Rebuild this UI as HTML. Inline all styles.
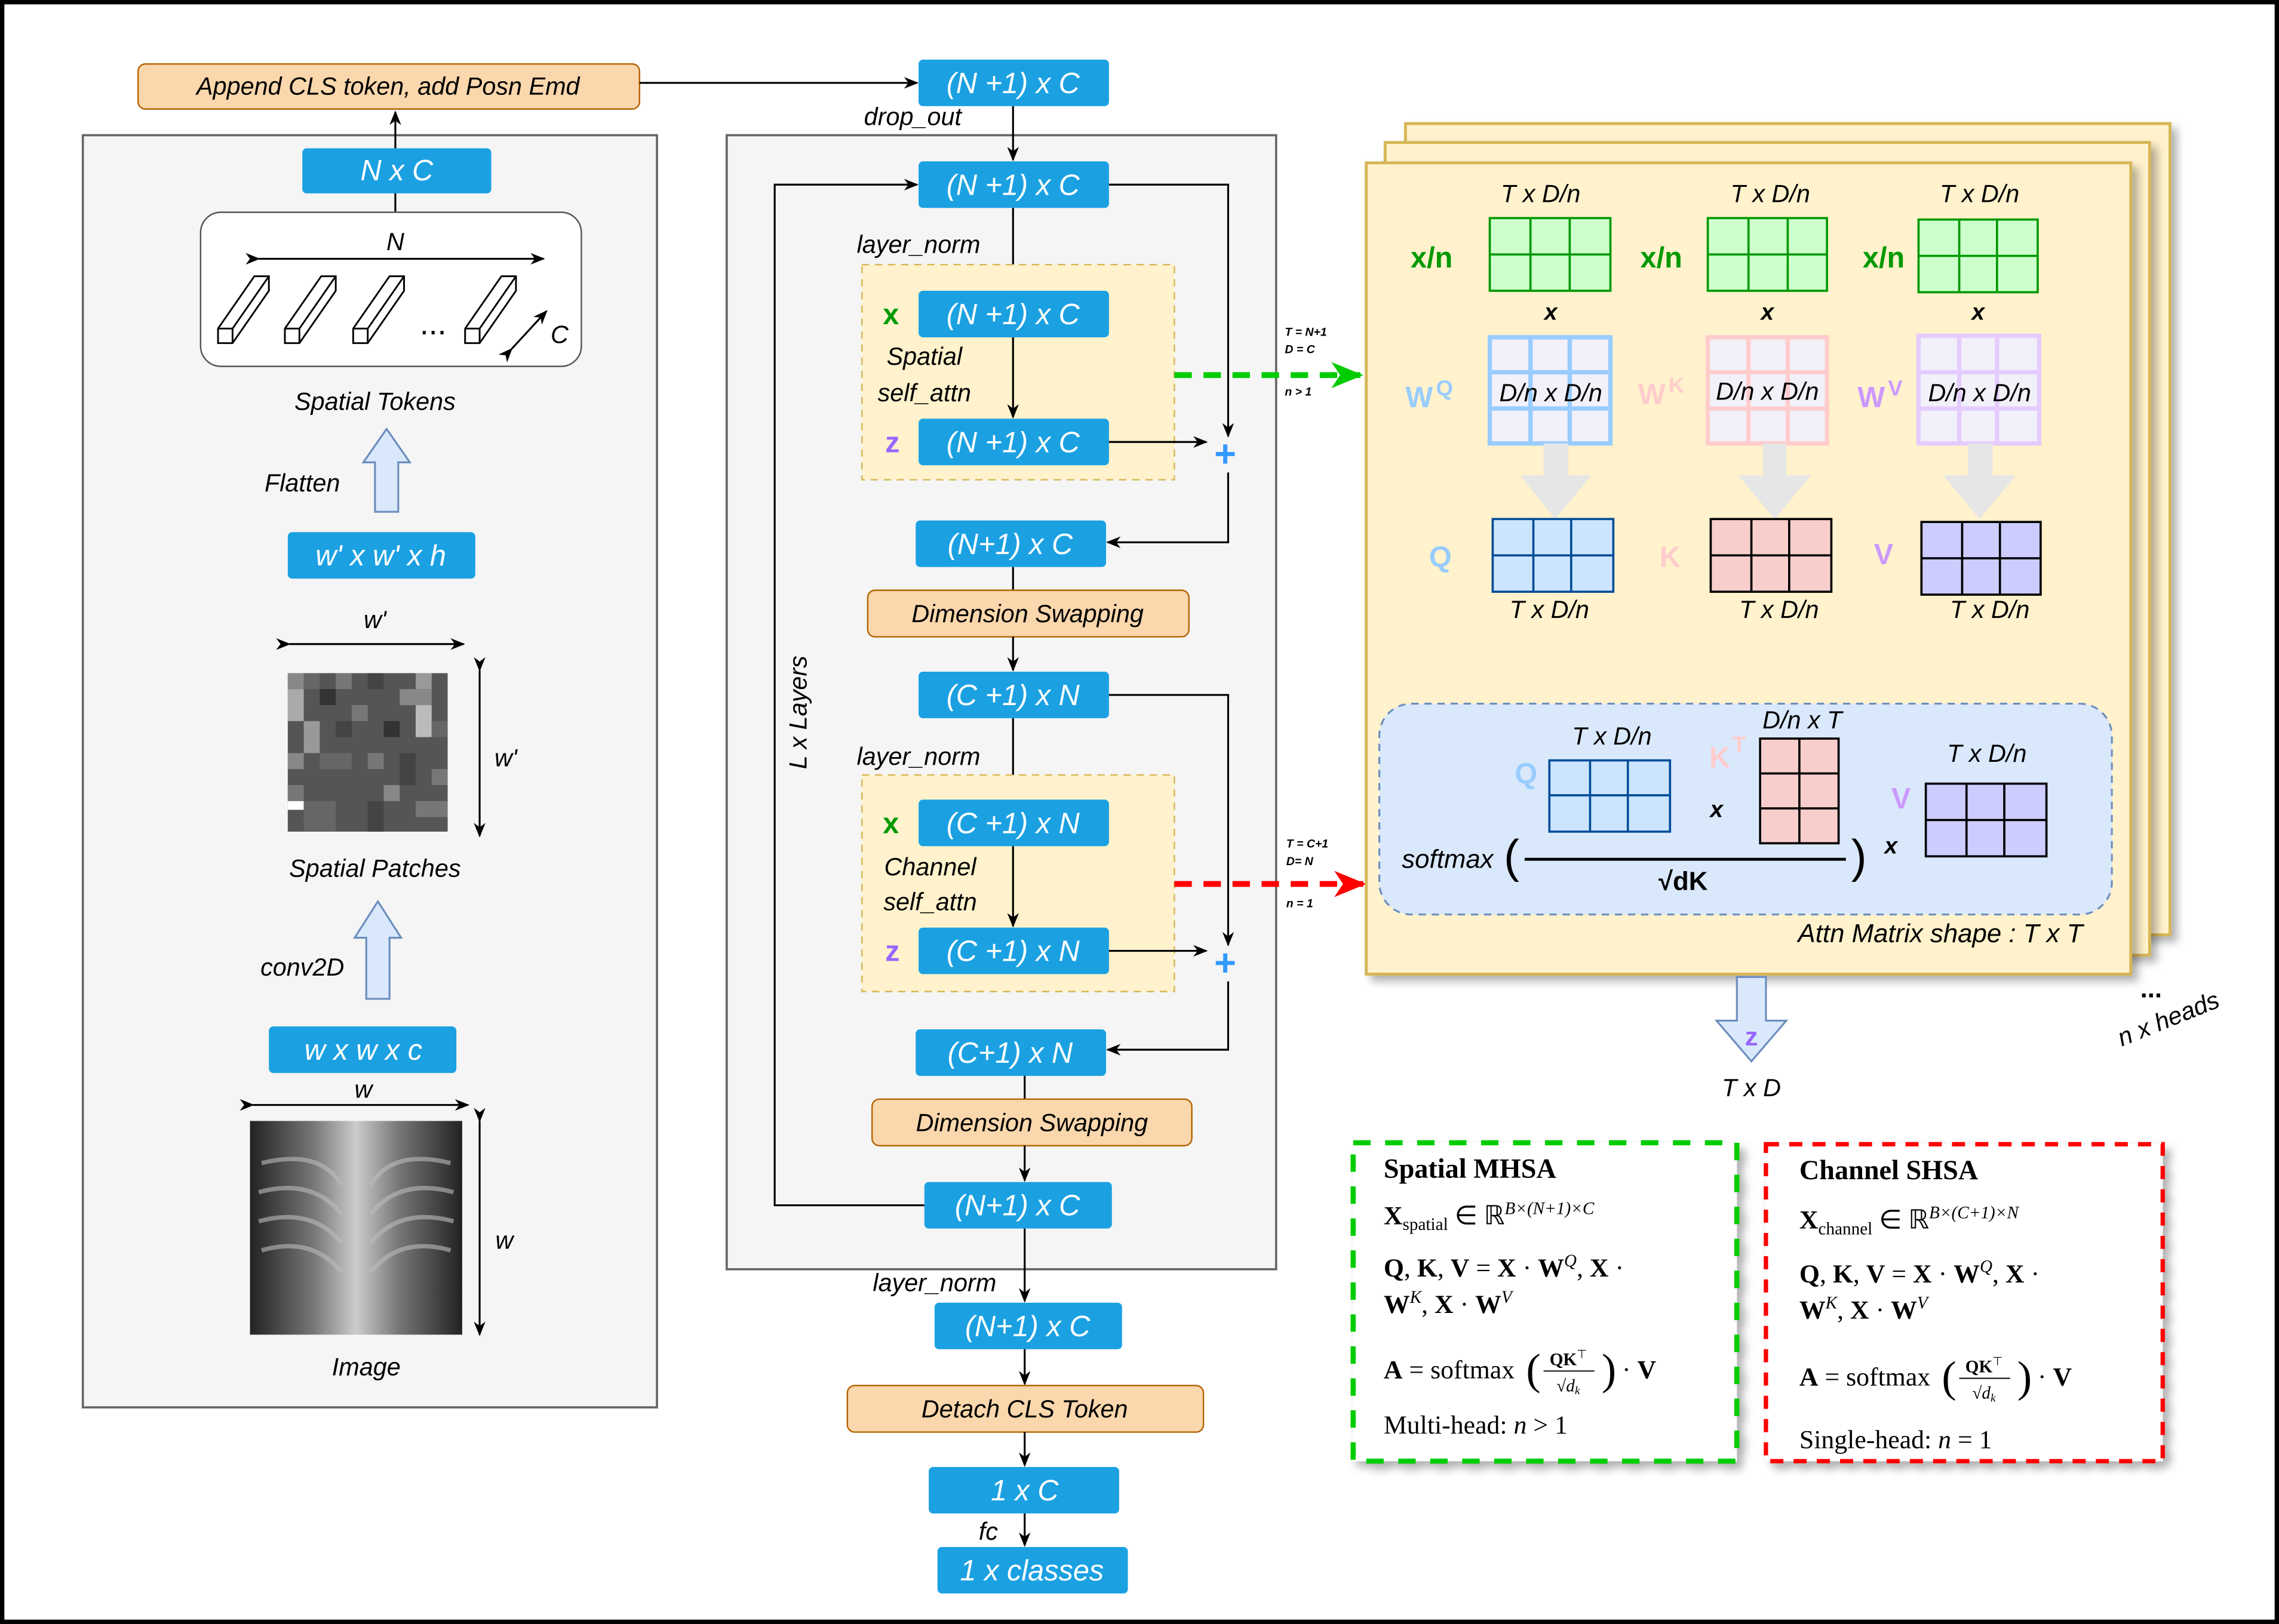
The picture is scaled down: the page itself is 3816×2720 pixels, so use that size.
<!DOCTYPE html>
<html><head><meta charset="utf-8"><style>
html,body{margin:0;padding:0;background:#fff}
svg{display:block}
text{font-family:"Liberation Sans",sans-serif}
.it{font-style:italic}
.bw{fill:#fff;font-style:italic;font-size:20px;text-anchor:middle}
.lb{font-style:italic;font-size:17px;text-anchor:middle;fill:#000}
.m text, text.m{font-family:"Liberation Serif",serif;font-size:18px;fill:#000}
</style></head><body>
<svg width="3816" height="2720" viewBox="0 0 1568 1117" preserveAspectRatio="none" xmlns="http://www.w3.org/2000/svg">
<defs>
<marker id="ah" markerWidth="10" markerHeight="10" refX="9" refY="5" orient="auto" markerUnits="userSpaceOnUse"><path d="M0,1 L10,5 L0,9 L3,5 z" fill="#000"/></marker>
<marker id="ag" markerWidth="22" markerHeight="22" refX="20" refY="11" orient="auto" markerUnits="userSpaceOnUse"><path d="M0,2 L22,11 L0,20 L6,11 z" fill="#00cc00"/></marker>
<marker id="ar" markerWidth="22" markerHeight="22" refX="20" refY="11" orient="auto" markerUnits="userSpaceOnUse"><path d="M0,2 L22,11 L0,20 L6,11 z" fill="#ff0000"/></marker>
<filter id="sh" x="-5%" y="-5%" width="115%" height="115%"><feDropShadow dx="4" dy="4" stdDeviation="3" flood-color="#000" flood-opacity="0.3"/></filter>
<linearGradient id="xr" x1="0" y1="0" x2="1" y2="0"><stop offset="0" stop-color="#222"/><stop offset="0.3" stop-color="#777"/><stop offset="0.5" stop-color="#ccc"/><stop offset="0.7" stop-color="#777"/><stop offset="1" stop-color="#222"/></linearGradient>
</defs>
<rect x="1.5" y="1.5" width="1565" height="1114" fill="#fff" stroke="#000" stroke-width="3"/>

<!-- LEFT PANEL -->
<rect x="57" y="93" width="395" height="875" fill="#f5f5f5" stroke="#666" stroke-width="1.5"/>
<rect x="95" y="44" width="345" height="31" rx="5" fill="#fad7ac" stroke="#b46504"/>
<text x="267" y="65" class="lb" font-size="18">Append CLS token, add Posn Emd</text>
<line x1="440" y1="57" x2="631" y2="57" stroke="#000" stroke-width="1.3" marker-end="url(#ah)"/>
<line x1="272" y1="102" x2="272" y2="77" stroke="#000" stroke-width="1.3" marker-end="url(#ah)"/>
<rect x="208" y="102" width="130" height="31" rx="3" fill="#1ba1e2"/><text x="273" y="124" class="bw">N x C</text>
<line x1="272" y1="133" x2="272" y2="146" stroke="#000" stroke-width="1.3"/>
<rect x="138" y="146" width="262" height="106" rx="14" fill="#fff" stroke="#555"/>
<line x1="178" y1="178" x2="374" y2="178" stroke="#000" stroke-width="1.3" marker-end="url(#ah)" marker-start="url(#ah)"/>
<text x="272" y="172" class="lb" font-size="20">N</text>
<g fill="#fff" stroke="#000" stroke-width="1.2">
<g id="cb"><polygon points="150,226 175,190 185,190 185,200 160,236 150,236"/><line x1="150" y1="226" x2="160" y2="226"/><line x1="160" y1="226" x2="185" y2="190"/><line x1="160" y1="226" x2="160" y2="236"/></g>
<use href="#cb" x="46"/><use href="#cb" x="93"/><use href="#cb" x="170"/>
</g>
<text x="298" y="230" font-size="22" text-anchor="middle">...</text>
<line x1="352" y1="240" x2="376" y2="214" stroke="#000" stroke-width="1.3" marker-end="url(#ah)" marker-start="url(#ah)"/>
<text x="385" y="236" class="lb" font-size="20">C</text>
<text x="258" y="282" class="lb">Spatial Tokens</text>
<polygon points="258,352 258,318 250,318 266,295 282,318 274,318 274,352" fill="#dae8fc" stroke="#6c8ebf" stroke-width="1.3"/>
<text x="208" y="338" class="lb">Flatten</text>
<rect x="198" y="366" width="129" height="32" rx="3" fill="#1ba1e2"/><text x="262" y="389" class="bw">w' x w' x h</text>
<line x1="199" y1="443" x2="319" y2="443" stroke="#000" stroke-width="1.3" marker-end="url(#ah)" marker-start="url(#ah)"/>
<text x="258" y="432" class="lb" font-size="20">w'</text>
<line x1="330" y1="461" x2="330" y2="575" stroke="#000" stroke-width="1.3" marker-end="url(#ah)" marker-start="url(#ah)"/>
<text x="348" y="527" class="lb" font-size="20">w'</text>
<text x="258" y="603" class="lb">Spatial Patches</text>
<polygon points="252,687 252,645 244,645 260,620 276,645 268,645 268,687" fill="#dae8fc" stroke="#6c8ebf" stroke-width="1.3"/>
<text x="208" y="671" class="lb">conv2D</text>
<rect x="185" y="706" width="129" height="32" rx="3" fill="#1ba1e2"/><text x="250" y="729" class="bw">w x w x c</text>
<line x1="174" y1="760" x2="322" y2="760" stroke="#000" stroke-width="1.3" marker-end="url(#ah)" marker-start="url(#ah)"/>
<text x="250" y="755" class="lb" font-size="20">w</text>
<rect x="172" y="771" width="146" height="147" fill="url(#xr)"/>
<g fill="none" stroke="#bbb" stroke-width="3" opacity="0.6">
<path d="M180,800 Q220,790 235,815"/><path d="M178,820 Q215,810 235,835"/><path d="M178,840 Q215,830 235,855"/><path d="M180,860 Q215,850 235,875"/>
<path d="M310,800 Q270,790 255,815"/><path d="M312,820 Q275,810 255,835"/><path d="M312,840 Q275,830 255,855"/><path d="M310,860 Q275,850 255,875"/>
</g>
<line x1="330" y1="771" x2="330" y2="918" stroke="#000" stroke-width="1.3" marker-end="url(#ah)" marker-start="url(#ah)"/>
<text x="347" y="859" class="lb" font-size="20">w</text>
<text x="252" y="946" class="lb">Image</text>

<!-- MIDDLE -->
<rect x="500" y="93" width="378" height="780" fill="#f5f5f5" stroke="#666" stroke-width="1.5"/>
<g stroke="#000" stroke-width="1.3" fill="none">
<line x1="697" y1="73" x2="697" y2="110" marker-end="url(#ah)"/>
<polyline points="636,829 533,829 533,127 631,127" marker-end="url(#ah)"/>
<polyline points="763,127 845,127 845,300" marker-end="url(#ah)"/>
<line x1="697" y1="143" x2="697" y2="199" marker-end="url(#ah)"/>
</g>
<rect x="632" y="41" width="131" height="32" rx="3" fill="#1ba1e2"/><text x="697" y="64" class="bw">(N +1) x C</text>
<text x="628" y="86" class="lb">drop_out</text>
<rect x="632" y="111" width="131" height="32" rx="3" fill="#1ba1e2"/><text x="697" y="134" class="bw">(N +1) x C</text>
<text x="632" y="174" class="lb">layer_norm</text>
<rect x="593" y="182" width="215" height="148" fill="#fff2cc" stroke="#d6b656" stroke-dasharray="5,4"/>
<text x="613" y="223" font-size="20" font-weight="bold" fill="#009900" text-anchor="middle">x</text>
<rect x="632" y="200" width="131" height="32" rx="3" fill="#1ba1e2"/><text x="697" y="223" class="bw">(N +1) x C</text>
<text x="636" y="251" class="lb">Spatial</text><text x="636" y="276" class="lb">self_attn</text>
<line x1="697" y1="232" x2="697" y2="287" stroke="#000" stroke-width="1.3" marker-end="url(#ah)"/>
<text x="614" y="311" font-size="20" font-weight="bold" fill="#9966ff" text-anchor="middle">z</text>
<rect x="632" y="288" width="131" height="32" rx="3" fill="#1ba1e2"/><text x="697" y="311" class="bw">(N +1) x C</text>
<line x1="763" y1="304" x2="830" y2="304" stroke="#000" stroke-width="1.3" marker-end="url(#ah)"/>
<text x="843" y="321" font-size="26" font-weight="bold" fill="#3399ff" text-anchor="middle">+</text>
<polyline points="845,325 845,373 762,373" stroke="#000" stroke-width="1.3" fill="none" marker-end="url(#ah)"/>
<rect x="630" y="358" width="131" height="32" rx="3" fill="#1ba1e2"/><text x="695" y="381" class="bw">(N+1) x C</text>
<line x1="697" y1="390" x2="697" y2="406" stroke="#000" stroke-width="1.3"/>
<rect x="597" y="406" width="221" height="32" rx="5" fill="#fad7ac" stroke="#b46504"/><text x="707" y="428" class="lb" font-size="18">Dimension Swapping</text>
<line x1="697" y1="438" x2="697" y2="461" stroke="#000" stroke-width="1.3" marker-end="url(#ah)"/>
<rect x="632" y="462" width="131" height="32" rx="3" fill="#1ba1e2"/><text x="697" y="485" class="bw">(C +1) x N</text>
<polyline points="763,478 845,478 845,650" stroke="#000" stroke-width="1.3" fill="none" marker-end="url(#ah)"/>
<line x1="697" y1="494" x2="697" y2="549" stroke="#000" stroke-width="1.3" marker-end="url(#ah)"/>
<text x="632" y="526" class="lb">layer_norm</text>
<rect x="593" y="533" width="215" height="149" fill="#fff2cc" stroke="#d6b656" stroke-dasharray="5,4"/>
<text x="613" y="573" font-size="20" font-weight="bold" fill="#009900" text-anchor="middle">x</text>
<rect x="632" y="550" width="131" height="32" rx="3" fill="#1ba1e2"/><text x="697" y="573" class="bw">(C +1) x N</text>
<text x="640" y="602" class="lb">Channel</text><text x="640" y="626" class="lb">self_attn</text>
<line x1="697" y1="582" x2="697" y2="637" stroke="#000" stroke-width="1.3" marker-end="url(#ah)"/>
<text x="614" y="661" font-size="20" font-weight="bold" fill="#9966ff" text-anchor="middle">z</text>
<rect x="632" y="638" width="131" height="32" rx="3" fill="#1ba1e2"/><text x="697" y="661" class="bw">(C +1) x N</text>
<line x1="763" y1="654" x2="830" y2="654" stroke="#000" stroke-width="1.3" marker-end="url(#ah)"/>
<text x="843" y="671" font-size="26" font-weight="bold" fill="#3399ff" text-anchor="middle">+</text>
<polyline points="845,675 845,722 762,722" stroke="#000" stroke-width="1.3" fill="none" marker-end="url(#ah)"/>
<rect x="630" y="708" width="131" height="32" rx="3" fill="#1ba1e2"/><text x="695" y="731" class="bw">(C+1) x N</text>
<line x1="705" y1="740" x2="705" y2="756" stroke="#000" stroke-width="1.3"/>
<rect x="600" y="756" width="220" height="32" rx="5" fill="#fad7ac" stroke="#b46504"/><text x="710" y="778" class="lb" font-size="18">Dimension Swapping</text>
<line x1="705" y1="788" x2="705" y2="812" stroke="#000" stroke-width="1.3" marker-end="url(#ah)"/>
<rect x="636" y="813" width="129" height="32" rx="3" fill="#1ba1e2"/><text x="700" y="836" class="bw">(N+1) x C</text>
<text x="555" y="490" class="lb" transform="rotate(-90 555 490)">L x Layers</text>
<line x1="705" y1="845" x2="705" y2="895" stroke="#000" stroke-width="1.3" marker-end="url(#ah)"/>
<text x="643" y="888" class="lb">layer_norm</text>
<rect x="643" y="896" width="129" height="32" rx="3" fill="#1ba1e2"/><text x="707" y="919" class="bw">(N+1) x C</text>
<line x1="705" y1="928" x2="705" y2="952" stroke="#000" stroke-width="1.3" marker-end="url(#ah)"/>
<rect x="583" y="953" width="245" height="32" rx="5" fill="#fad7ac" stroke="#b46504"/><text x="705" y="975" class="lb" font-size="18">Detach CLS Token</text>
<line x1="705" y1="985" x2="705" y2="1008" stroke="#000" stroke-width="1.3" marker-end="url(#ah)"/>
<rect x="639" y="1009" width="131" height="32" rx="3" fill="#1ba1e2"/><text x="705" y="1032" class="bw">1 x C</text>
<line x1="705" y1="1041" x2="705" y2="1063" stroke="#000" stroke-width="1.3" marker-end="url(#ah)"/>
<text x="680" y="1059" class="lb">fc</text>
<rect x="645" y="1064" width="131" height="32" rx="3" fill="#1ba1e2"/><text x="710" y="1087" class="bw">1 x classes</text>

<!-- dashed arrows -->
<line x1="808" y1="258" x2="936" y2="258" stroke="#00cc00" stroke-width="4" stroke-dasharray="12,8" marker-end="url(#ag)"/>
<text x="884" y="231" font-size="8" font-weight="bold" font-style="italic">T = N+1</text>
<text x="884" y="243" font-size="8" font-weight="bold" font-style="italic">D = C</text>
<text x="884" y="272" font-size="8" font-weight="bold" font-style="italic">n &gt; 1</text>
<line x1="808" y1="608" x2="938" y2="608" stroke="#ff0000" stroke-width="4" stroke-dasharray="12,8" marker-end="url(#ar)"/>
<text x="885" y="583" font-size="8" font-weight="bold" font-style="italic">T = C+1</text>
<text x="885" y="595" font-size="8" font-weight="bold" font-style="italic">D= N</text>
<text x="885" y="624" font-size="8" font-weight="bold" font-style="italic">n = 1</text>

<!-- ATTENTION STACK -->
<rect x="967" y="85" width="526" height="558" fill="#fff2cc" stroke="#d6b656" stroke-width="2" filter="url(#sh)"/>
<rect x="953" y="98" width="526" height="559" fill="#fff2cc" stroke="#d6b656" stroke-width="2" filter="url(#sh)"/>
<rect x="940" y="112" width="526" height="558" fill="#fff2cc" stroke="#d6b656" stroke-width="2" filter="url(#sh)"/>
<g font-style="italic" font-size="17" text-anchor="middle">
<text x="1060" y="139">T x D/n</text><text x="1218" y="139">T x D/n</text><text x="1362" y="139">T x D/n</text>
</g>
<g font-size="20" font-weight="bold" fill="#009900" text-anchor="middle">
<text x="985" y="184">x/n</text><text x="1143" y="184">x/n</text><text x="1296" y="184">x/n</text>
</g>
<g font-size="16" font-weight="bold" font-style="italic" text-anchor="middle">
<text x="1067" y="220">x</text><text x="1216" y="220">x</text><text x="1361" y="220">x</text>
</g>
<g fill="#ccffcc" stroke="#009900" stroke-width="1.5">
<rect x="1025" y="150" width="83" height="50"/><path d="M1053,150V200M1080,150V200M1025,175H1108"/>
<rect x="1175" y="150" width="82" height="50"/><path d="M1203,150V200M1230,150V200M1175,175H1257"/>
<rect x="1320" y="151" width="82" height="50"/><path d="M1348,151V201M1374,151V201M1320,176H1402"/>
</g>
<g fill="#f2f0f8" stroke-width="3">
<g stroke="#99ccff"><rect x="1025" y="232" width="83" height="73"/><path d="M1053,232V305M1080,232V305M1025,256H1108M1025,281H1108"/></g>
<g stroke="#ffcccc"><rect x="1175" y="232" width="82" height="73"/><path d="M1203,232V305M1230,232V305M1175,256H1257M1175,281H1257"/></g>
<g stroke="#e5ccff"><rect x="1320" y="231" width="83" height="74"/><path d="M1348,231V305M1374,231V305M1320,256H1403M1320,281H1403"/></g>
</g>
<g font-style="italic" font-size="17" text-anchor="middle">
<text x="1067" y="276">D/n x D/n</text><text x="1216" y="275">D/n x D/n</text><text x="1362" y="276">D/n x D/n</text>
</g>
<g font-size="20" font-weight="bold">
<text x="967" y="280" fill="#99ccff">W</text><text x="988" y="272" fill="#99ccff" font-size="15">Q</text>
<text x="1127" y="278" fill="#ffcccc">W</text><text x="1148" y="270" fill="#ffcccc" font-size="15">K</text>
<text x="1278" y="280" fill="#cc99ff">W</text><text x="1299" y="272" fill="#cc99ff" font-size="15">V</text>
</g>
<g fill="#e6e6e6">
<polygon points="1062,305 1079,305 1079,327 1095,327 1070,357 1046,327 1062,327"/>
<polygon points="1213,305 1229,305 1229,327 1246,327 1221,357 1196,327 1213,327"/>
<polygon points="1354,305 1371,305 1371,327 1387,327 1362,357 1337,327 1354,327"/>
</g>
<g stroke-width="1.5">
<g fill="#cce5ff" stroke="#004c99"><rect x="1027" y="357" width="83" height="50"/><path d="M1055,357V407M1081,357V407M1027,382H1110"/></g>
<g fill="#f8cecc" stroke="#000"><rect x="1177" y="357" width="83" height="50"/><path d="M1205,357V407M1231,357V407M1177,382H1260"/></g>
<g fill="#ccccff" stroke="#000"><rect x="1322" y="359" width="82" height="50"/><path d="M1350,359V409M1376,359V409M1322,384H1404"/></g>
</g>
<g font-size="20" font-weight="bold" text-anchor="middle">
<text x="991" y="390" fill="#99ccff">Q</text><text x="1149" y="390" fill="#ffcccc">K</text><text x="1296" y="388" fill="#cc99ff">V</text>
</g>
<g font-style="italic" font-size="17" text-anchor="middle">
<text x="1066" y="425">T x D/n</text><text x="1224" y="425">T x D/n</text><text x="1369" y="425">T x D/n</text>
</g>
<rect x="949" y="484" width="504" height="145" rx="22" fill="#dae8fc" stroke="#6c8ebf" stroke-width="1.3" stroke-dasharray="5,4"/>
<g stroke-width="1.5">
<g fill="#cce5ff" stroke="#004c99"><rect x="1066" y="523" width="83" height="49"/><path d="M1094,523V572M1120,523V572M1066,547H1149"/></g>
<g fill="#f8cecc" stroke="#000"><rect x="1211" y="508" width="54" height="72"/><path d="M1238,508V580M1211,532H1265M1211,556H1265"/></g>
<g fill="#ccccff" stroke="#000"><rect x="1325" y="539" width="83" height="50"/><path d="M1353,539V589M1379,539V589M1325,564H1408"/></g>
</g>
<g font-style="italic" font-size="17" text-anchor="middle">
<text x="1109" y="512">T x D/n</text><text x="1240" y="501">D/n x T</text><text x="1367" y="524">T x D/n</text>
<text x="996" y="597" font-size="18">softmax</text>
<text x="1433" y="648" text-anchor="end" font-size="18">Attn Matrix shape : T x T</text>
</g>
<g font-size="20" font-weight="bold">
<text x="1050" y="539" fill="#99ccff" text-anchor="middle">Q</text>
<text x="1176" y="528" fill="#ffcccc">K</text><text x="1192" y="517" fill="#ffcccc" font-size="15">T</text>
<text x="1308" y="556" fill="#cc99ff" text-anchor="middle">V</text>
</g>
<g font-size="16" font-weight="bold" font-style="italic" text-anchor="middle">
<text x="1181" y="562">x</text><text x="1301" y="587">x</text>
</g>
<line x1="1049" y1="591" x2="1270" y2="591" stroke="#000" stroke-width="2"/>
<text x="1158" y="612" font-size="18" font-weight="bold" text-anchor="middle">√dK</text>
<text x="1040" y="600" font-size="32" text-anchor="middle">(</text>
<text x="1279" y="600" font-size="32" text-anchor="middle">)</text>
<polygon points="1195,672 1215,672 1215,702 1229,702 1205,730 1181,702 1195,702" fill="#dae8fc" stroke="#6c8ebf" stroke-width="1.3"/>
<text x="1205" y="719" font-size="18" font-weight="bold" fill="#9966ff" text-anchor="middle">z</text>
<text x="1205" y="754" class="lb">T x D</text>
<text x="1480" y="686" font-size="18" font-weight="bold" text-anchor="middle">...</text>
<text x="1494" y="706" class="lb" transform="rotate(-22 1494 706)">n x heads</text>

<!-- LEGENDS -->
<rect x="931" y="786" width="264" height="219" fill="#fff" stroke="#00cc00" stroke-width="3.5" stroke-dasharray="12,10" filter="url(#sh)"/>
<rect x="1215" y="787" width="273" height="218" fill="#fff" stroke="#ff0000" stroke-width="3" stroke-dasharray="9,7" filter="url(#sh)"/>
<g class="m">
<text x="952" y="810" font-weight="bold" style="font-size:19px">Spatial MHSA</text>
<text x="952" y="842"><tspan font-weight="bold">X</tspan><tspan font-size="12" dy="4">spatial</tspan><tspan dy="-4"> ∈ ℝ</tspan><tspan font-size="12" font-style="italic" dy="-7">B×(N+1)×C</tspan></text>
<text x="952" y="878"><tspan font-weight="bold">Q</tspan>, <tspan font-weight="bold">K</tspan>, <tspan font-weight="bold">V</tspan> = <tspan font-weight="bold">X</tspan> · <tspan font-weight="bold">W</tspan><tspan font-size="12" font-style="italic" dy="-7">Q</tspan><tspan dy="7">, </tspan><tspan font-weight="bold">X</tspan> ·</text>
<text x="952" y="903"><tspan font-weight="bold">W</tspan><tspan font-size="12" font-style="italic" dy="-7">K</tspan><tspan dy="7">, </tspan><tspan font-weight="bold">X</tspan> · <tspan font-weight="bold">W</tspan><tspan font-size="12" font-style="italic" dy="-7">V</tspan></text>
<text x="952" y="948"><tspan font-weight="bold">A</tspan> = softmax</text>
<text x="1050" y="952" style="font-size:30px">(</text><text x="1102" y="952" style="font-size:30px">)</text>
<text x="1079" y="939" font-weight="bold" text-anchor="middle" style="font-size:12px">QK<tspan font-weight="normal" dy="-5" font-size="8">⊤</tspan></text>
<line x1="1062" y1="943" x2="1097" y2="943" stroke="#000" stroke-width="0.8"/>
<text x="1079" y="957" font-style="italic" text-anchor="middle" style="font-size:12px">√d<tspan font-size="8" dy="2">k</tspan></text>
<text x="1116" y="948">· <tspan font-weight="bold">V</tspan></text>
<text x="952" y="986">Multi-head: <tspan font-style="italic">n</tspan> &gt; 1</text>

<text x="1238" y="811" font-weight="bold" style="font-size:19px">Channel SHSA</text>
<text x="1238" y="845"><tspan font-weight="bold">X</tspan><tspan font-size="12" dy="4">channel</tspan><tspan dy="-4"> ∈ ℝ</tspan><tspan font-size="12" font-style="italic" dy="-7">B×(C+1)×N</tspan></text>
<text x="1238" y="882"><tspan font-weight="bold">Q</tspan>, <tspan font-weight="bold">K</tspan>, <tspan font-weight="bold">V</tspan> = <tspan font-weight="bold">X</tspan> · <tspan font-weight="bold">W</tspan><tspan font-size="12" font-style="italic" dy="-7">Q</tspan><tspan dy="7">, </tspan><tspan font-weight="bold">X</tspan> ·</text>
<text x="1238" y="907"><tspan font-weight="bold">W</tspan><tspan font-size="12" font-style="italic" dy="-7">K</tspan><tspan dy="7">, </tspan><tspan font-weight="bold">X</tspan> · <tspan font-weight="bold">W</tspan><tspan font-size="12" font-style="italic" dy="-7">V</tspan></text>
<text x="1238" y="953"><tspan font-weight="bold">A</tspan> = softmax</text>
<text x="1336" y="957" style="font-size:30px">(</text><text x="1388" y="957" style="font-size:30px">)</text>
<text x="1365" y="944" font-weight="bold" text-anchor="middle" style="font-size:12px">QK<tspan font-weight="normal" dy="-5" font-size="8">⊤</tspan></text>
<line x1="1348" y1="948" x2="1383" y2="948" stroke="#000" stroke-width="0.8"/>
<text x="1365" y="962" font-style="italic" text-anchor="middle" style="font-size:12px">√d<tspan font-size="8" dy="2">k</tspan></text>
<text x="1402" y="953">· <tspan font-weight="bold">V</tspan></text>
<text x="1238" y="996">Single-head: <tspan font-style="italic">n</tspan> = 1</text>
</g>

<!-- patch pixels -->
<g>
<rect x="198" y="463" width="110" height="109" fill="#555"/>
<rect x="198" y="463" width="11" height="11" fill="#888"/><rect x="209" y="463" width="11" height="11" fill="#666"/><rect x="231" y="463" width="11" height="11" fill="#777"/><rect x="253" y="463" width="11" height="11" fill="#444"/><rect x="286" y="463" width="11" height="11" fill="#999"/>
<rect x="198" y="474" width="11" height="22" fill="#aaa"/><rect x="220" y="474" width="11" height="11" fill="#333"/><rect x="242" y="485" width="11" height="11" fill="#777"/><rect x="275" y="474" width="22" height="11" fill="#888"/><rect x="286" y="485" width="11" height="22" fill="#bbb"/>
<rect x="209" y="496" width="11" height="22" fill="#999"/><rect x="231" y="496" width="11" height="11" fill="#444"/><rect x="264" y="496" width="11" height="11" fill="#333"/><rect x="297" y="496" width="11" height="11" fill="#666"/>
<rect x="198" y="518" width="11" height="11" fill="#888"/><rect x="220" y="518" width="22" height="11" fill="#666"/><rect x="253" y="518" width="11" height="11" fill="#777"/><rect x="275" y="518" width="11" height="22" fill="#444"/>
<rect x="198" y="540" width="11" height="11" fill="#777"/><rect x="231" y="540" width="11" height="11" fill="#555"/><rect x="264" y="540" width="11" height="11" fill="#888"/><rect x="297" y="529" width="11" height="11" fill="#777"/>
<rect x="198" y="551" width="11" height="6" fill="#fff"/><rect x="209" y="551" width="22" height="21" fill="#666"/><rect x="253" y="551" width="11" height="21" fill="#444"/><rect x="286" y="551" width="22" height="11" fill="#777"/>
</g>
</svg>
</body></html>
